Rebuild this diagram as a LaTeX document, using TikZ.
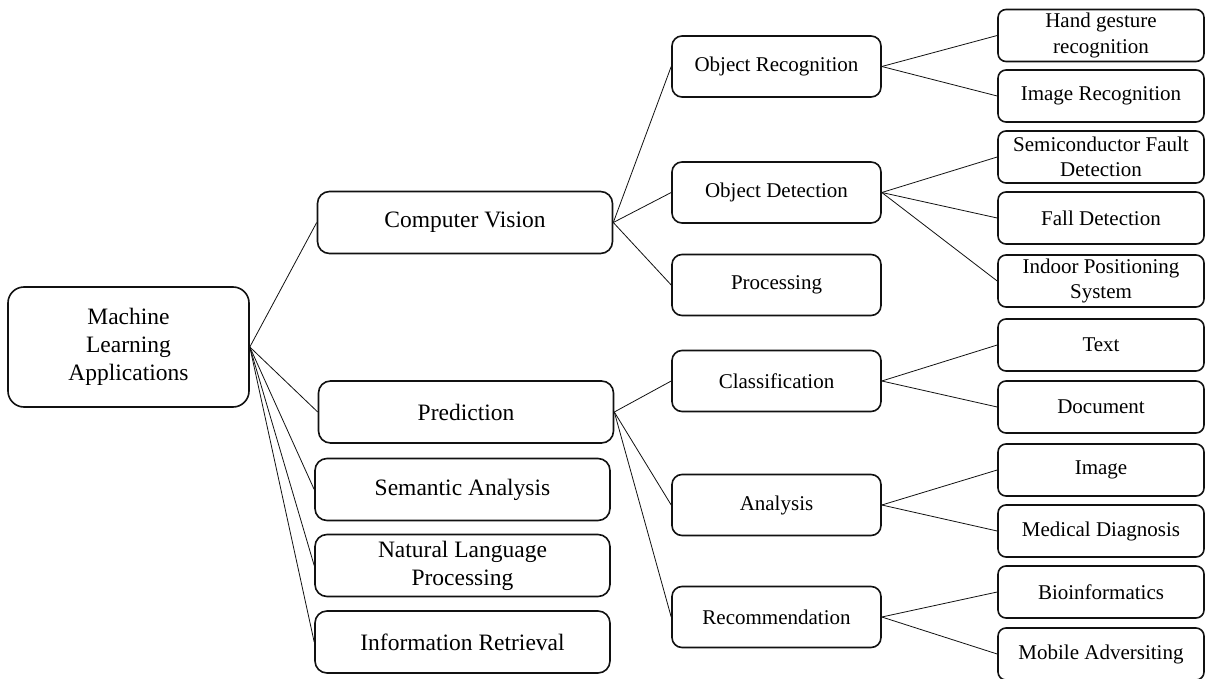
\documentclass[tikz,border=0pt]{standalone}
\usepackage{fontspec}
\setmainfont{Liberation Serif}
\usetikzlibrary{positioning}
\definecolor{Ink}{HTML}{111111}

\begin{document}
\begin{tikzpicture}[x=1pt,y=-1pt,
    box/.style={draw=Ink,line width=1.6pt,align=center,inner sep=0pt},
    big/.style={box,font=\fontsize{23.5}{28.2}\selectfont},
    small/.style={box,font=\fontsize{21}{25.6}\selectfont},
    rootbox/.style={big,rounded corners=16pt,minimum width=241pt,minimum height=120pt},
    topic/.style={big,rounded corners=12pt,minimum width=295pt,minimum height=62pt},
    sub/.style={small,rounded corners=10pt,minimum width=209pt,minimum height=61pt},
    leaf/.style={small,rounded corners=8pt,minimum width=206pt,minimum height=52pt},
    link/.style={draw=Ink,line width=0.8pt}]
        \useasboundingbox(0,0)rectangle(1206,679);
        % root and first level
        \node[rootbox](root)at(128.5,347){Machine\\Learning\\Applications};
        \node[topic](cv)at(465,222.5){Computer Vision};
        \node[topic](pred)at(466,412){Prediction};
        \node[topic](sem)at(462.5,489.5){Semantic Analysis};
        \node[topic](nlp)at(462.5,565.5){Natural Language\\Processing};
        \node[topic](ir)at(462.5,642){Information Retrieval};
        % second level
        \node[sub](orec)at(776.5,66.5){Object Recognition};
        \node[sub](odet)at(776.5,192.5){Object Detection};
        \node[sub](proc)at(776.5,285){Processing};
        \node[sub](cls)at(776.5,381){Classification};
        \node[sub](ana)at(776.5,505){Analysis};
        \node[sub](rec)at(776.5,617){Recommendation};
        % leaves
        \node[leaf](hand)at(1101,35.5){Hand gesture\\recognition};
        \node[leaf](imgrec)at(1101,96){Image Recognition};
        \node[leaf](semi)at(1101,157){Semiconductor Fault\\Detection};
        \node[leaf](fall)at(1101,218){Fall Detection};
        \node[leaf](indoor)at(1101,281){Indoor Positioning\\System};
        \node[leaf](txt)at(1101,345){Text};
        \node[leaf](doc)at(1101,407){Document};
        \node[leaf](img)at(1101,470){Image};
        \node[leaf](med)at(1101,531){Medical Diagnosis};
        \node[leaf](bio)at(1101,592){Bioinformatics};
        \node[leaf](mob)at(1101,654){Mobile Adversiting};
        % connectors
        \foreach \a/\b in {root/cv,root/pred,root/sem,root/nlp,root/ir,
            cv/orec,cv/odet,cv/proc,pred/cls,pred/ana,pred/rec,
            orec/hand,orec/imgrec,odet/semi,odet/fall,odet/indoor,
            cls/txt,cls/doc,ana/img,ana/med,rec/bio,rec/mob}
          \draw[link](\a.east)--(\b.west);
      \end{tikzpicture}
\end{document}
